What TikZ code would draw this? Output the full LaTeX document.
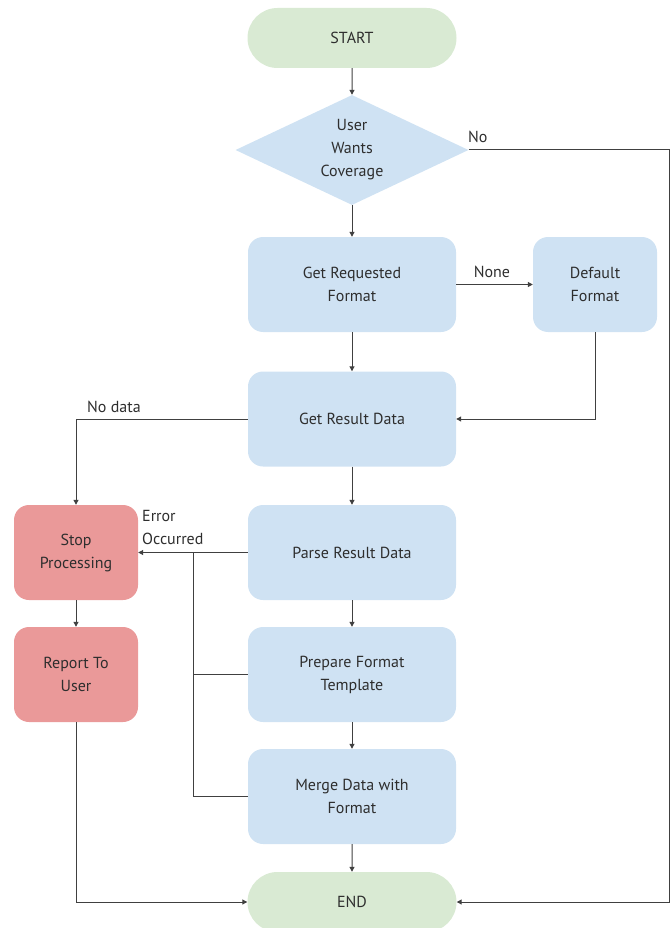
\documentclass[tikz,border=0pt]{standalone}
\usepackage{fontspec}
\setmainfont{PT Sans}
\usetikzlibrary{shapes.geometric,shapes.misc,arrows.meta}
\definecolor{termfill}{HTML}{D9EAD3}
\definecolor{procfill}{HTML}{CFE2F3}
\definecolor{errfill}{HTML}{EA9999}
\definecolor{txt}{HTML}{2E2E2E}
\definecolor{wire}{HTML}{404040}
\tikzset{
  every node/.style={text=txt, font=\fontsize{16}{23}\selectfont},
  term/.style={rounded rectangle, fill=termfill, minimum width=209pt, minimum height=60pt, inner sep=0pt},
  proc/.style={rounded corners=15pt, fill=procfill, minimum width=208pt, minimum height=95pt, align=center, inner sep=0pt},
  side/.style={rounded corners=15pt, minimum width=124pt, minimum height=95pt, align=center, inner sep=0pt},
  decide/.style={diamond, fill=procfill, minimum width=233pt, minimum height=110pt, aspect=2.1, align=center, inner sep=0pt},
  flow/.style={draw=wire, line width=1pt, -{Triangle[length=5pt,width=5pt]}},
  link/.style={draw=wire, line width=1pt},
  lbl/.style={inner sep=0pt, align=left},
}
\begin{document}
\begin{tikzpicture}[x=1pt,y=-1pt]
\useasboundingbox (0,0) rectangle (671,928);
\begin{scope}
\clip (0,0) rectangle (671,928);
\node[term] (start) at (352,38) {START};
\node[decide] (dec) at (352,150) {User\\Wants\\Coverage};
\node[proc] (req) at (352,284.5) {Get Requested\\Format};
\node[side, fill=procfill] (def) at (595,284.5) {Default\\Format};
\node[proc] (res) at (352,419) {Get Result Data};
\node[proc] (parse) at (352,552.5) {Parse Result Data};
\node[proc] (prep) at (352,674.5) {Prepare Format\\Template};
\node[proc] (merge) at (352,796.5) {Merge Data with\\Format};
\node[term] (end) at (352,902) {END};
\node[side, fill=errfill] (stop) at (76,552.5) {Stop\\Processing};
\node[side, fill=errfill] (rep) at (76,674.5) {Report To\\User};

\coordinate (noturn) at (669,150);
\coordinate (defturn) at (def.south |- res.east);
\coordinate (nodturn) at (stop.north |- res.west);
\coordinate (errbus) at (193,552.5);
\coordinate (repturn) at (rep.south |- end.west);

\draw[flow] (start) -- (dec);
\draw[flow] (dec) -- (req);
\draw[flow] (req) -- (res);
\draw[flow] (res) -- (parse);
\draw[flow] (parse) -- (prep);
\draw[flow] (prep) -- (merge);
\draw[flow] (merge) -- (end);
\draw[flow] (req) -- (def);
\draw[flow] (def.south) -- (defturn) -- (res.east);
\draw[flow] (dec.east) -- (noturn) |- (end.east);
\draw[flow] (res.west) -- (nodturn) -- (stop.north);
\draw[flow] (parse.west) -- (stop.east);
\draw[link] (prep.west) -| (errbus);
\draw[link] (merge.west) -| (errbus);
\draw[flow] (stop) -- (rep);
\draw[flow] (rep.south) -- (repturn) -- (end.west);
\end{scope}

\node[lbl, anchor=south west] (nolbl) at (468,143) {No};
\node[lbl, anchor=south] (nonelbl) at (492,278) {None};
\node[lbl, anchor=south west] (nodlbl) at (87,413) {No data};
\node[lbl, anchor=south west] (errlbl) at (142,545) {Error\\Occurred};
\end{tikzpicture}
\end{document}
